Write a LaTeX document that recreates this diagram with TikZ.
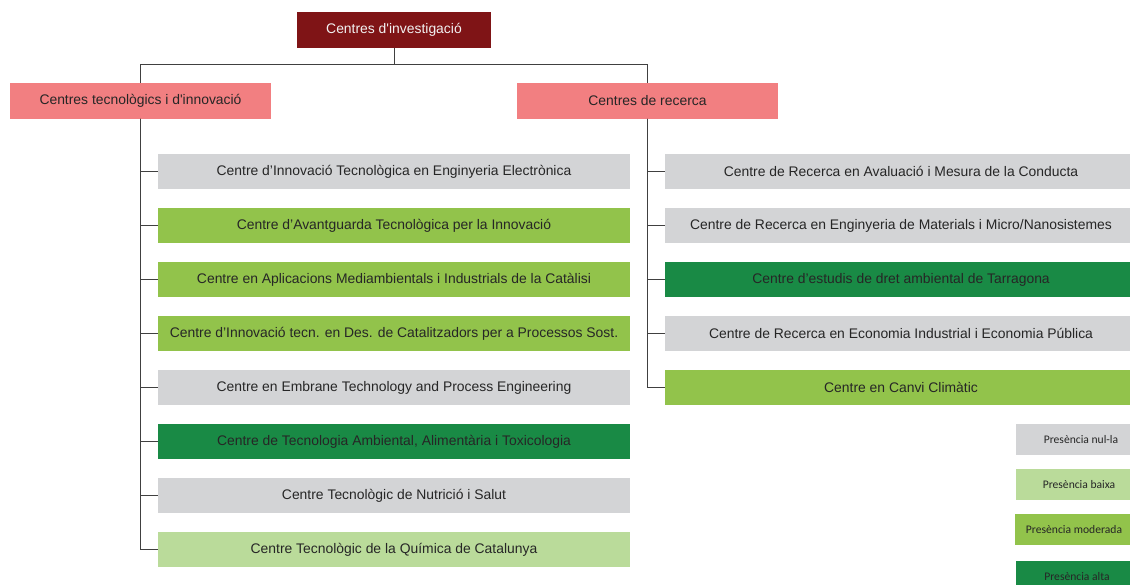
\documentclass[tikz,border=0pt]{standalone}
\usepackage{fontspec}
\setmainfont{Liberation Sans}
\newfontfamily\legendfont{Carlito}
\definecolor{rootred}{HTML}{7F1416}
\definecolor{pinkc}{HTML}{F27F81}
\definecolor{greyc}{HTML}{D3D4D6}
\definecolor{lgreen}{HTML}{BADB9A}
\definecolor{mgreen}{HTML}{92C34B}
\definecolor{dgreen}{HTML}{198A45}
\definecolor{linec}{HTML}{404040}
\begin{document}
\begin{tikzpicture}[x=1pt,y=-1pt,
  base/.style={inner sep=0pt, outer sep=0pt, font=\fontsize{13.9}{15}\selectfont, text=black!85},
  rootbox/.style={base, fill=rootred, text=white!95!black, minimum width=194pt, minimum height=36pt},
  lvlbox/.style={base, fill=pinkc, minimum width=261pt, minimum height=36pt},
  cbox/.style={base, minimum width=472pt, minimum height=35pt},
  legbox/.style={inner sep=0pt, outer sep=0pt, font=\legendfont\fontsize{11.6}{13}\selectfont, text=black!85, minimum height=31pt},
  conn/.style={draw=linec, line width=0.9pt}
]
\useasboundingbox (0,0) rectangle (1130,584);
\fill[white] (0,0) rectangle (1130,584);

\node[rootbox] (root) at (394,29.5) {Centres d\textquotesingle investigació};
\node[lvlbox] (tec) at (140.5,100.5) {Centres tecnològics i d\textquotesingle innovació};
\node[lvlbox] (rec) at (647.5,100.5) {Centres de recerca};

% left column
\node[cbox, fill=greyc]  (l1) at (394,171.5) {Centre d’Innovació Tecnològica en Enginyeria Electrònica};
\node[cbox, fill=mgreen] (l2) at (394,225.5) {Centre d’Avantguarda Tecnològica per la Innovació};
\node[cbox, fill=mgreen] (l3) at (394,279.5) {Centre en Aplicacions Mediambientals i Industrials de la Catàlisi};
\node[cbox, fill=mgreen] (l4) at (394,333.5) {Centre d’Innovació tecn. en Des. de Catalitzadors per a Processos Sost.};
\node[cbox, fill=greyc]  (l5) at (394,387.5) {Centre en Embrane Technology and Process Engineering};
\node[cbox, fill=dgreen] (l6) at (394,441.5) {Centre de Tecnologia Ambiental, Alimentària i Toxicologia};
\node[cbox, fill=greyc]  (l7) at (394,495.5) {Centre Tecnològic de Nutrició i Salut};
\node[cbox, fill=lgreen] (l8) at (394,549.5) {Centre Tecnològic de la Química de Catalunya};

% right column
\node[cbox, fill=greyc]  (r1) at (901,171.5) {Centre de Recerca en Avaluació i Mesura de la Conducta};
\node[cbox, fill=greyc]  (r2) at (901,225.5) {Centre de Recerca en Enginyeria de Materials i Micro/Nanosistemes};
\node[cbox, fill=dgreen] (r3) at (901,279.5) {Centre d’estudis de dret ambiental de Tarragona};
\node[cbox, fill=greyc]  (r4) at (901,333.5) {Centre de Recerca en Economia Industrial i Economia Pública};
\node[cbox, fill=mgreen] (r5) at (901,387.5) {Centre en Canvi Climàtic};

% legend
\node[legbox, fill=greyc,  minimum width=130pt] (g1) at (1081,439.5) {Presència nul-la};
\node[legbox, fill=lgreen, minimum width=126pt] (g2) at (1079,484.5) {Presència baixa};
\node[legbox, fill=mgreen, minimum width=118pt] (g3) at (1074,529.5) {Presència moderada};
\node[legbox, fill=dgreen, minimum width=122pt] (g4) at (1077,576.5) {Presència alta};

% connectors
\coordinate (hub) at (394,64);
\draw[conn] (root.south) -- (hub);
\draw[conn] (hub) -| (tec.north);
\draw[conn] (hub) -| (rec.north);
\foreach \n in {l1,l2,l3,l4,l5,l6,l7,l8}
  \draw[conn] (tec.south) |- (\n.west);
\foreach \n in {r1,r2,r3,r4,r5}
  \draw[conn] (rec.south) |- (\n.west);
\end{tikzpicture}
\end{document}
